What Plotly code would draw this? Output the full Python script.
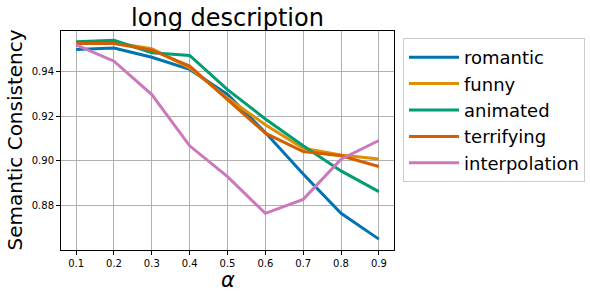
import plotly.graph_objects as go

alpha = [0.1, 0.2, 0.3, 0.4, 0.5, 0.6, 0.7, 0.8, 0.9]
romantic = [0.9501, 0.9507, 0.9466, 0.9411, 0.9298, 0.9127, 0.8940, 0.8763, 0.8647]
funny = [0.9531, 0.9531, 0.9504, 0.9418, 0.9282, 0.9162, 0.9056, 0.9026, 0.9008]
animated = [0.9536, 0.9542, 0.9486, 0.9474, 0.9320, 0.9188, 0.9067, 0.8954, 0.8861]
terrifying = [0.9528, 0.9528, 0.9498, 0.9426, 0.9275, 0.9124, 0.9041, 0.9022, 0.8974]
interpolation = [0.9521, 0.9448, 0.9298, 0.9067, 0.8928, 0.8763, 0.8826, 0.9007, 0.9091]

series = [
    ("romantic", romantic, "#0173B2"),
    ("funny", funny, "#DE8F05"),
    ("animated", animated, "#029E73"),
    ("terrifying", terrifying, "#D55E00"),
    ("interpolation", interpolation, "#CC78BC"),
]

font = "DejaVu Sans"
fig = go.Figure()
for name, vals, col in series:
    fig.add_trace(go.Scatter(x=alpha, y=vals, mode="lines", name=name,
                             line=dict(color=col, width=3)))

axis_common = dict(showline=True, linecolor="black", linewidth=1, mirror=True,
                   showgrid=True, gridcolor="#b0b0b0", gridwidth=1,
                   ticks="outside", ticklen=4, tickcolor="black",
                   tickfont=dict(family=font, size=10, color="black"),
                   zeroline=False, automargin=False)

L, R, T, B = 61, 196, 31, 46
W, H = 590, 296
pw, ph = W - L - R, H - T - B

fig.update_layout(
    width=W, height=H,
    margin=dict(l=L, r=R, t=T, b=B, autoexpand=False),
    paper_bgcolor="white", plot_bgcolor="white",
    font=dict(family=font, color="black"),
    title=dict(text="long description", x=(L + L + pw) / 2 / W, xanchor="center",
               y=1 - 18 / H, yanchor="middle",
               font=dict(family=font, size=24, color="black")),
    xaxis=dict(range=[0.06, 0.94], tickvals=alpha,
               ticktext=[str(a) for a in alpha], **axis_common),
    yaxis=dict(range=[0.8598, 0.9584], tickvals=[0.88, 0.90, 0.92, 0.94],
               ticktext=["0.88", "0.90", "0.92", "0.94"], **axis_common),
    legend=dict(xref="container", yref="container", x=403 / W, xanchor="left",
                y=1 - 38 / H, yanchor="top",
                font=dict(family=font, size=18, color="black"),
                bordercolor="#cccccc", borderwidth=1, bgcolor="white",
                tracegroupgap=0, itemwidth=50),
    annotations=[
        dict(text="<i>α</i>", xref="paper", yref="paper", x=0.5, y=-(280 - (T + ph)) / ph,
             xanchor="center", yanchor="middle", showarrow=False,
             font=dict(family=font, size=21, color="black")),
        dict(text="Semantic Consistency", xref="paper", yref="paper",
             x=-(L - 14) / pw, y=0.5, xanchor="center", yanchor="middle",
             textangle=-90, showarrow=False,
             font=dict(family=font, size=20, color="black")),
    ],
)

fig.write_html("out.html", config={"displayModeBar": False},
               post_script="document.body.style.margin='0';document.body.style.overflow='hidden';")
